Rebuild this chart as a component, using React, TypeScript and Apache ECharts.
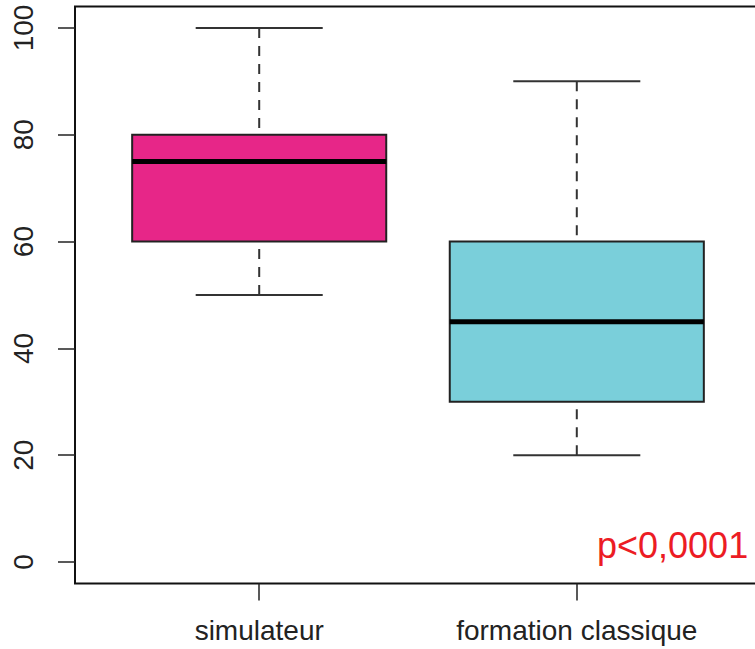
import React, { useEffect, useRef } from "react";
import * as echarts from "echarts";

const categories = ["simulateur", "formation classique"];
const mins = [50, 20];
const q1s = [60, 30];
const medians = [75, 45];
const q3s = [80, 60];
const maxs = [100, 90];
const boxColors = ["#E72688", "#7ACFDA"];
const yTicks = [0, 20, 40, 60, 80, 100];
const annotation = "p<0,0001";

export default function App() {
  const ref = useRef<HTMLDivElement>(null);
  useEffect(() => {
    document.body.style.margin = "0";
    const chart = echarts.init(ref.current!, undefined, { renderer: "svg" });
    const data = categories.map((c, i) => [i + 1, mins[i], q1s[i], medians[i], q3s[i], maxs[i]]);
    const ink = "#222";
    chart.setOption({
      animation: false,
      backgroundColor: "#fff",
      grid: {
        left: 75,
        top: 6.6,
        height: 576.8,
        width: 686,
        outerBoundsMode: "none",
        containLabel: false,
        show: true,
        borderColor: "#111",
        borderWidth: 2,
        backgroundColor: "transparent",
      },
      xAxis: {
        type: "value",
        min: 0.42,
        max: 2.58,
        splitLine: { show: false },
        axisLine: { show: false, onZero: false },
        axisTick: { show: true, length: 17, customValues: [1, 2], lineStyle: { color: ink, width: 1.5 } },
        axisLabel: {
          customValues: [1, 2],
          formatter: (v: number) => categories[Math.round(v) - 1] ?? "",
          fontFamily: "Liberation Sans",
          fontSize: 28,
          color: "#222",
          margin: 33,
        },
      },
      yAxis: {
        type: "value",
        min: -4,
        max: 104,
        splitLine: { show: false },
        axisLine: { show: false, onZero: false },
        axisTick: { show: true, length: 17, customValues: yTicks, lineStyle: { color: ink, width: 1.5 } },
        axisLabel: {
          customValues: yTicks,
          rotate: 90,
          fontFamily: "Liberation Sans",
          fontSize: 28,
          color: "#222",
          margin: 38,
        },
      },
      series: [
        {
          type: "custom",
          data,
          encode: { x: 0, y: [1, 2, 3, 4, 5] },
          renderItem: (params: any, api: any) => {
            const idx = params.dataIndex;
            const x = api.value(0);
            const pMin = api.coord([x, api.value(1)]);
            const pQ1 = api.coord([x, api.value(2)]);
            const pMed = api.coord([x, api.value(3)]);
            const pQ3 = api.coord([x, api.value(4)]);
            const pMax = api.coord([x, api.value(5)]);
            const bw = api.size([0.8, 0])[0];
            const cw = bw / 2;
            const cx = pMed[0];
            const whisk = { stroke: "#333", lineWidth: 2, lineDash: [10, 8] };
            const solid = { stroke: "#333", lineWidth: 2 };
            return {
              type: "group",
              children: [
                { type: "line", shape: { x1: cx, y1: pMax[1], x2: cx, y2: pQ3[1] }, style: whisk },
                { type: "line", shape: { x1: cx, y1: pMin[1], x2: cx, y2: pQ1[1] }, style: whisk },
                { type: "line", shape: { x1: cx - cw / 2, y1: pMax[1], x2: cx + cw / 2, y2: pMax[1] }, style: solid },
                { type: "line", shape: { x1: cx - cw / 2, y1: pMin[1], x2: cx + cw / 2, y2: pMin[1] }, style: solid },
                {
                  type: "rect",
                  shape: { x: cx - bw / 2, y: pQ3[1], width: bw, height: pQ1[1] - pQ3[1] },
                  style: { fill: boxColors[idx], stroke: "#222", lineWidth: 2 },
                },
                {
                  type: "line",
                  shape: { x1: cx - bw / 2, y1: pMed[1], x2: cx + bw / 2, y2: pMed[1] },
                  style: { stroke: "#000", lineWidth: 5 },
                },
              ],
            };
          },
        },
      ],
      graphic: [
        {
          type: "text",
          left: 597,
          top: 527,
          style: {
            text: annotation,
            fill: "#EC1C24",
            fontFamily: "Liberation Sans",
            fontSize: 36,
          },
        },
      ],
    });
    return () => chart.dispose();
  }, []);
  return <div ref={ref} style={{ position: "absolute", left: 0, top: 0, width: 755, height: 649 }} />;
}
